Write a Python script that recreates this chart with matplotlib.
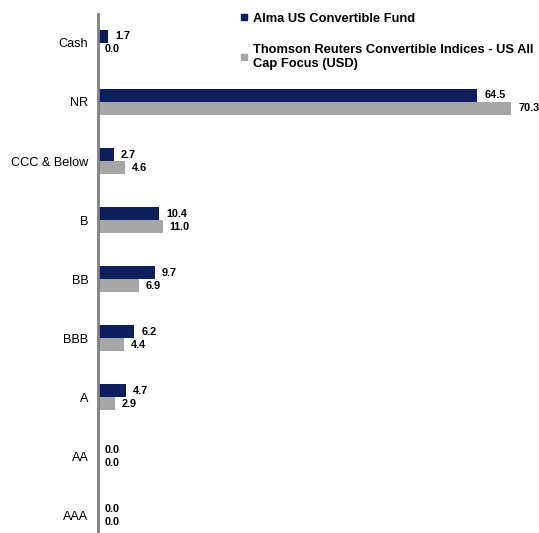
import matplotlib.pyplot as plt
from matplotlib.lines import Line2D
import numpy as np

plt.rcParams['font.family'] = ['Liberation Sans', 'DejaVu Sans']

categories = ['Cash', 'NR', 'CCC & Below', 'B', 'BB', 'BBB', 'A', 'AA', 'AAA']
fund = [1.7, 64.5, 2.7, 10.4, 9.7, 6.2, 4.7, 0.0, 0.0]
index = [0.0, 70.3, 4.6, 11.0, 6.9, 4.4, 2.9, 0.0, 0.0]
series_names = ['Alma US Convertible Fund',
                'Thomson Reuters Convertible Indices - US All\nCap Focus (USD)']

navy = '#0c1f5c'
grey = '#a6a6a6'

fig = plt.figure(figsize=[5.39, 5.33], dpi=100)
ax = fig.add_axes([98 / 539, 0, 1 - 98 / 539, 1 - 14 / 533])

y = np.arange(len(categories))
h = 0.22
ax.barh(y - h / 2, fund, height=h, color=navy)
ax.barh(y + h / 2, index, height=h, color=grey)

label_font = dict(fontsize=7.8, fontweight='bold',
                  family=['Liberation Sans Narrow', 'Liberation Sans'])
for yi, v in zip(y, fund):
    ax.annotate(f'{v:.1f}', (v, yi - h / 2), xytext=(5, 0),
                textcoords='offset points', va='center', ha='left',
                **label_font)
for yi, v in zip(y, index):
    ax.annotate(f'{v:.1f}', (v, yi + h / 2), xytext=(5, 0),
                textcoords='offset points', va='center', ha='left',
                **label_font)

ax.set_xlim(0, 75)
ax.set_ylim(8.3, -0.49)
ax.set_yticks(y, categories, fontsize=9.1)
ax.tick_params(axis='y', length=0, pad=7)
ax.set_xticks([])
for s in ['top', 'right', 'bottom']:
    ax.spines[s].set_visible(False)
ax.spines['left'].set_color('#808080')
ax.spines['left'].set_linewidth(2)

handles = [Line2D([], [], ls='none', marker='s', ms=5, color=navy),
           Line2D([], [], ls='none', marker='s', ms=5, color=grey)]
fig.legend(handles, series_names, loc='upper left',
           bbox_to_anchor=(234 / 539, 1 - 6 / 533), frameon=False,
           prop={'weight': 'bold', 'size': 9.3}, handlelength=0.6,
           handletextpad=0.35, labelspacing=1.5, borderpad=0)

fig.savefig('out.png', dpi=100)
